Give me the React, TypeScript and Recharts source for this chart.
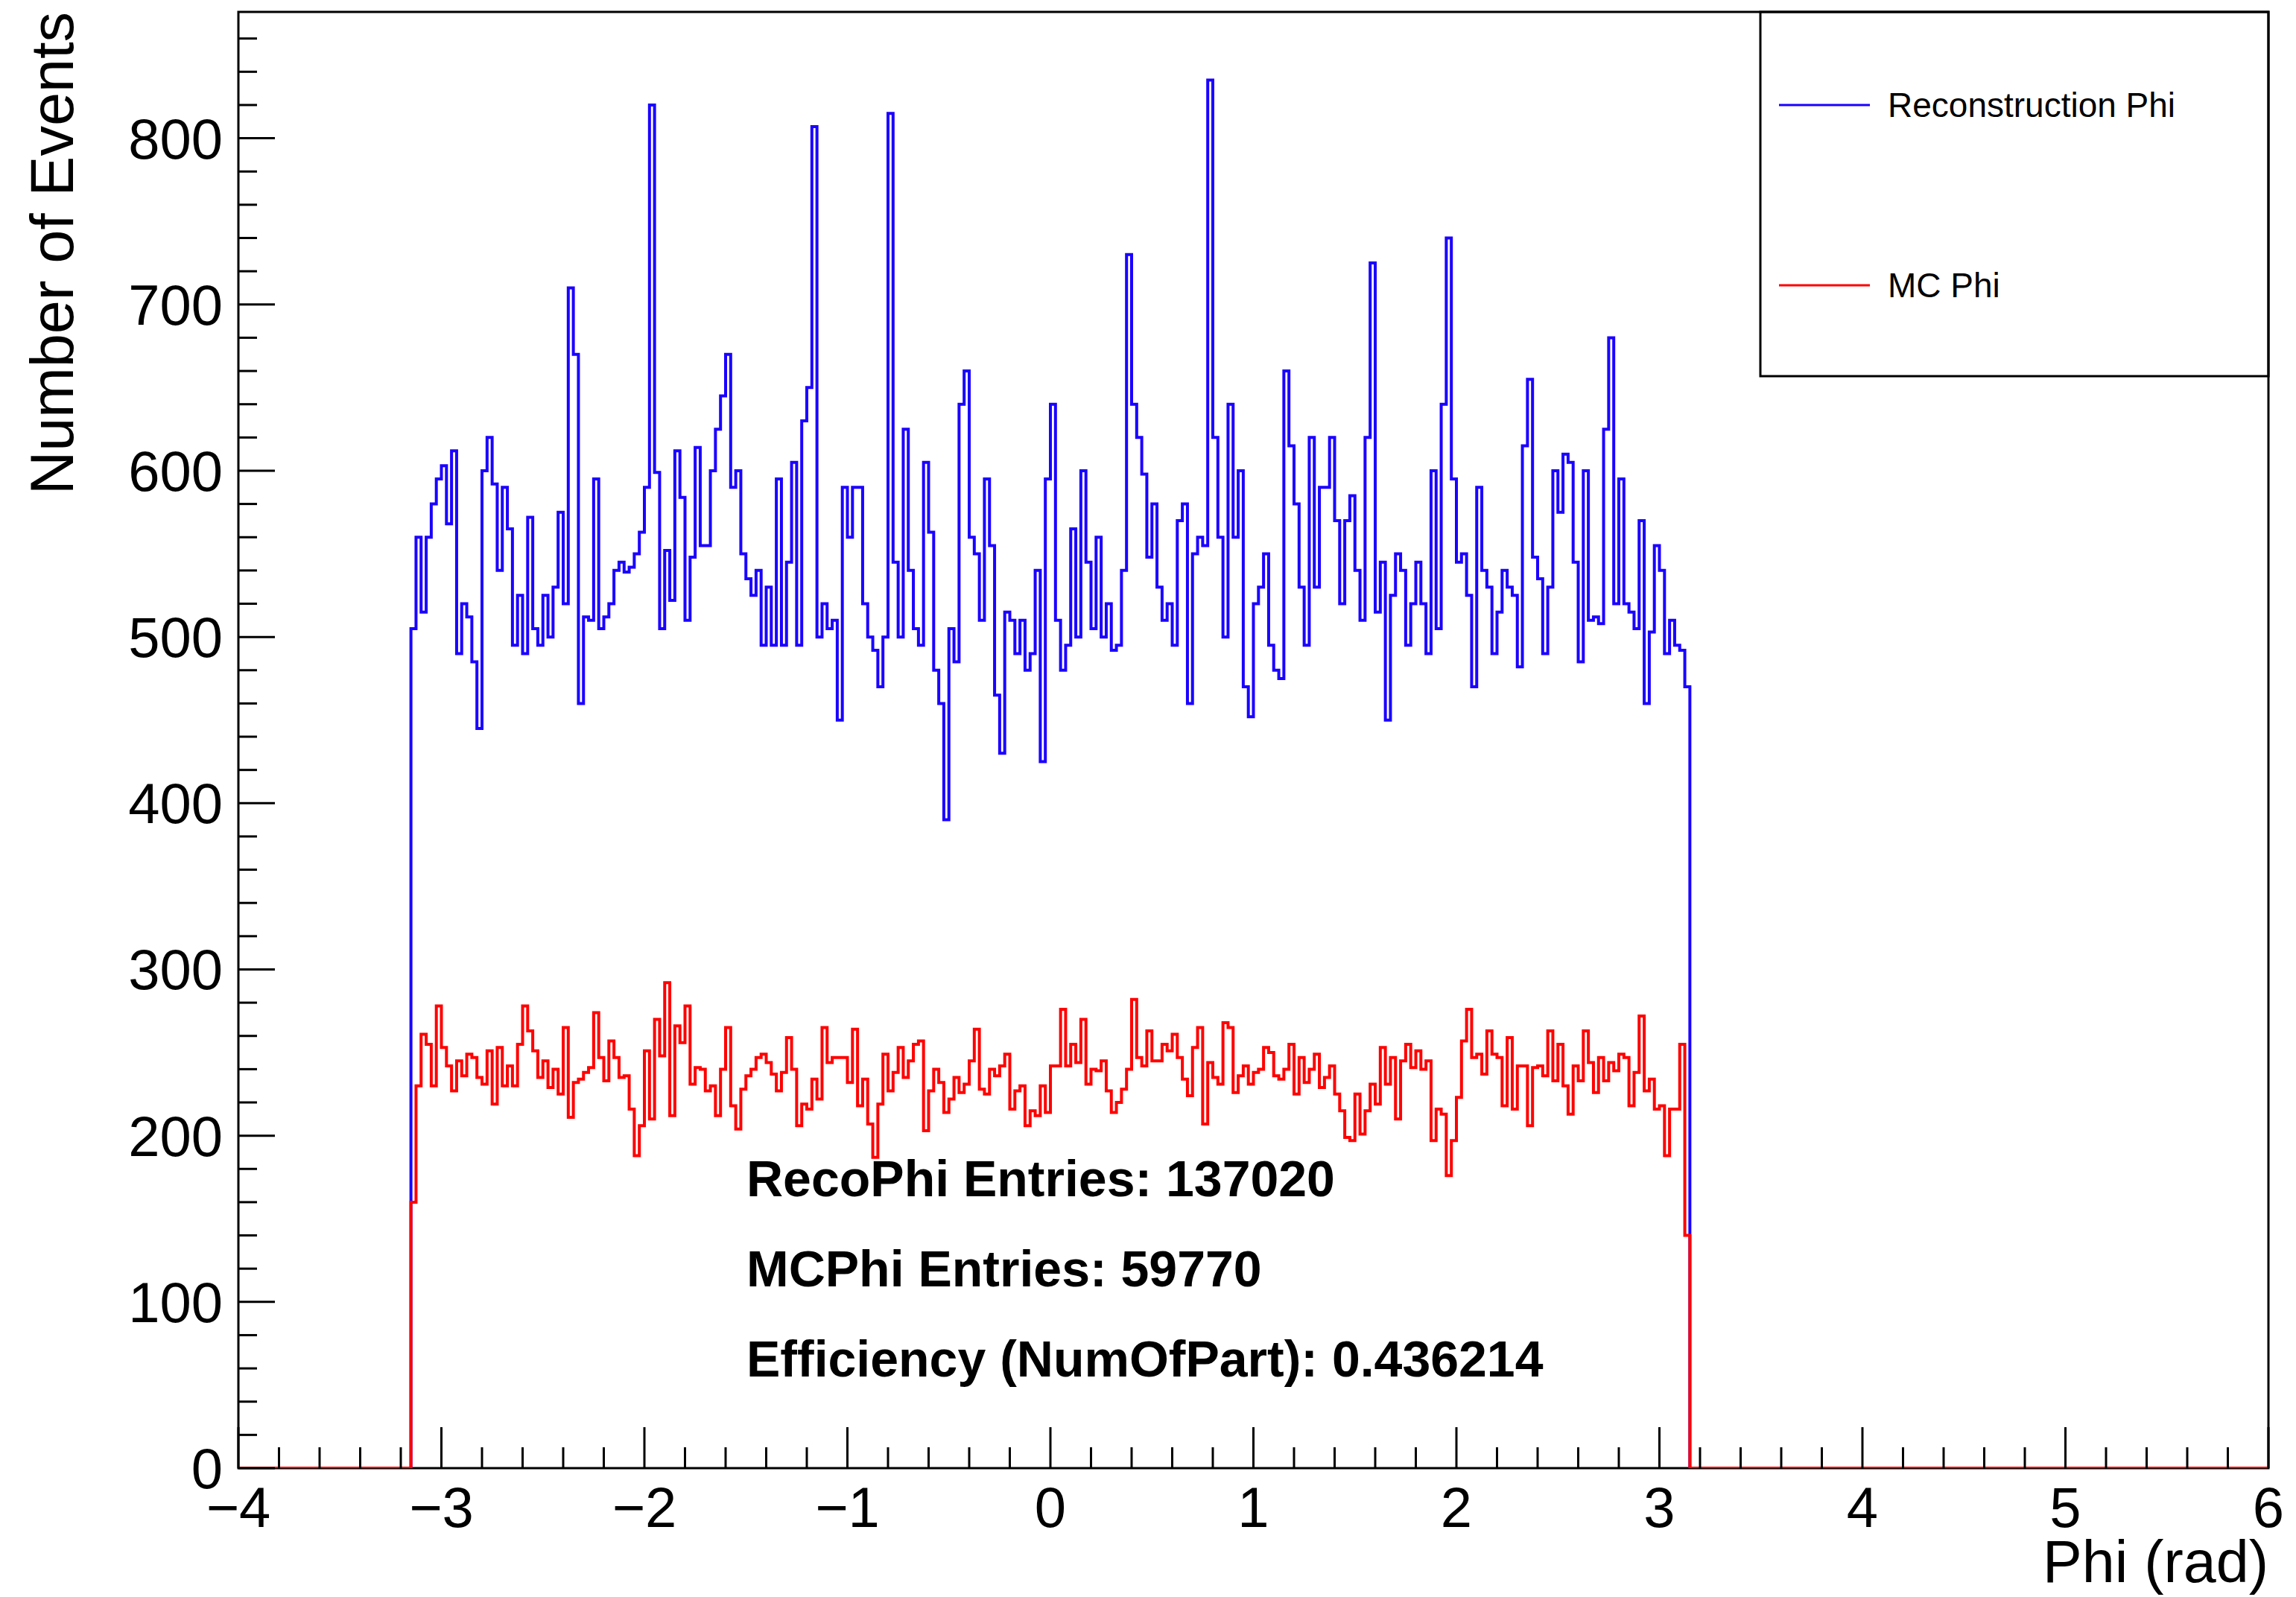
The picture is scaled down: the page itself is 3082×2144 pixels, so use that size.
import React from 'react';
import { ComposedChart, Line, XAxis, YAxis, ReferenceArea, Customized } from 'recharts';

// Histogram definition: 400 bins on [-4, 6] -> filled bins start at -3.15, width 0.025
const BIN_LOW = -3.15;
const BIN_WIDTH = 0.025;
const X_MIN = -4;
const X_MAX = 6;
const Y_MAX = 876;

const recoPhiCounts = [
  505, 560, 515, 560, 580, 595, 603, 568, 612, 490,
  520, 512, 485, 445, 600, 620, 592, 540, 590, 565,
  495, 525, 490, 572, 505, 495, 525, 500, 530, 575,
  520, 710, 670, 460, 512, 510, 595, 505, 512, 520,
  540, 545, 539, 542, 550, 563, 590, 820, 599, 505,
  552, 522, 612, 584, 510, 548, 614, 555, 555, 600,
  625, 645, 670, 590, 600, 550, 535, 525, 540, 495,
  530, 495, 595, 495, 545, 605, 495, 630, 650, 807,
  500, 520, 505, 510, 450, 590, 560, 590, 590, 520,
  500, 492, 470, 500, 815, 545, 500, 625, 540, 505,
  495, 605, 563, 480, 460, 390, 505, 485, 640, 660,
  560, 550, 510, 595, 555, 465, 430, 515, 510, 490,
  510, 480, 490, 540, 425, 595, 640, 510, 480, 495,
  565, 500, 600, 545, 505, 560, 500, 520, 492, 495,
  540, 730, 640, 620, 598, 548, 580, 530, 510, 520,
  495, 570, 580, 460, 550, 560, 555, 835, 620, 560,
  500, 640, 560, 600, 470, 452, 520, 530, 550, 495,
  480, 475, 660, 615, 580, 530, 495, 620, 530, 590,
  590, 620, 570, 520, 570, 585, 540, 510, 620, 725,
  515, 545, 450, 525, 550, 540, 495, 520, 545, 520,
  490, 600, 505, 640, 740, 595, 545, 550, 525, 470,
  590, 540, 530, 490, 515, 540, 530, 525, 482, 615,
  655, 548, 535, 490, 530, 600, 575, 610, 605, 545,
  485, 600, 510, 512, 508, 625, 680, 520, 595, 520,
  515, 505, 570, 460, 503, 555, 540, 490, 510, 495,
  492, 470,
];

const mcPhiCounts = [
  160, 230, 261, 255, 230, 278, 253, 242, 227, 245,
  236, 249, 247, 235, 231, 251, 219, 253, 230, 242,
  230, 255, 278, 263, 251, 235, 245, 229, 240, 225,
  265, 211, 232, 234, 238, 241, 274, 247, 233, 257,
  247, 235, 236, 216, 188, 206, 251, 210, 270, 248,
  292, 212, 266, 256, 278, 231, 241, 240, 227, 230,
  212, 240, 265, 218, 204, 228, 236, 240, 247, 249,
  244, 237, 227, 238, 259, 240, 206, 219, 216, 234,
  222, 265, 244, 247, 247, 247, 232, 264, 218, 234,
  207, 187, 219, 249, 227, 238, 253, 235, 245, 255,
  257, 203, 227, 240, 232, 214, 222, 235, 226, 231,
  245, 264, 228, 225, 240, 236, 242, 249, 216, 227,
  230, 206, 215, 212, 230, 214, 242, 242, 276, 242,
  255, 244, 270, 231, 240, 239, 245, 227, 214, 220,
  228, 240, 282, 247, 242, 263, 245, 245, 255, 251,
  261, 247, 234, 224, 253, 265, 207, 244, 235, 231,
  268, 265, 226, 236, 242, 231, 238, 240, 253, 250,
  236, 234, 240, 255, 225, 247, 232, 240, 249, 229,
  235, 242, 225, 215, 199, 197, 225, 201, 215, 231,
  219, 253, 231, 247, 210, 245, 255, 241, 251, 240,
  245, 197, 216, 213, 176, 197, 223, 257, 276, 247,
  249, 237, 263, 249, 247, 218, 259, 216, 242, 242,
  206, 241, 242, 236, 263, 233, 255, 230, 213, 242,
  233, 263, 244, 226, 247, 233, 244, 239, 249, 247,
  218, 238, 272, 227, 234, 216, 218, 188, 216, 216,
  255, 140,
];

const xMajorTicks = [-4, -3, -2, -1, 0, 1, 2, 3, 4, 5, 6];
const yMajorTicks = [0, 100, 200, 300, 400, 500, 600, 700, 800];
const X_MINOR_PER_MAJOR = 5;
const Y_MINOR_PER_MAJOR = 5;

const seriesNames = ['Reconstruction Phi', 'MC Phi'];
const seriesColors = ['#1a00ff', '#ff0000'];
const xAxisTitle = 'Phi (rad)';
const yAxisTitle = 'Number of Events';
const statsLines = [
  'RecoPhi Entries: 137020',
  'MCPhi Entries: 59770',
  'Efficiency (NumOfPart): 0.436214',
];

const FONT = '"Liberation Sans", Arial, Helvetica, sans-serif';

// Build step data (bin low edges) from the counts
const rows: { x: number; reco: number; mc: number }[] = [];
rows.push({ x: X_MIN, reco: 0, mc: 0 });
for (let i = 0; i < recoPhiCounts.length; i++) {
  rows.push({ x: +(BIN_LOW + i * BIN_WIDTH).toFixed(6), reco: recoPhiCounts[i], mc: mcPhiCounts[i] });
}
rows.push({ x: +(BIN_LOW + recoPhiCounts.length * BIN_WIDTH).toFixed(6), reco: 0, mc: 0 });
rows.push({ x: X_MAX, reco: 0, mc: 0 });

// tick arrays incl. minor ticks
const xTicks: number[] = [];
for (let i = 0; i < xMajorTicks.length - 1; i++) {
  const step = (xMajorTicks[i + 1] - xMajorTicks[i]) / X_MINOR_PER_MAJOR;
  for (let k = 0; k < X_MINOR_PER_MAJOR; k++) xTicks.push(+(xMajorTicks[i] + k * step).toFixed(6));
}
xTicks.push(xMajorTicks[xMajorTicks.length - 1]);

const yTicks: number[] = [];
{
  const step = (yMajorTicks[1] - yMajorTicks[0]) / Y_MINOR_PER_MAJOR;
  for (let v = 0; v < Y_MAX; v = +(v + step).toFixed(6)) yTicks.push(v);
}

const isXMajor = (v: number) => xMajorTicks.some((m) => Math.abs(m - v) < 1e-6);
const isYMajor = (v: number) => yMajorTicks.some((m) => Math.abs(m - v) < 1e-6);
const fmt = (v: number) => (v < 0 ? '\u2212' + Math.abs(v) : String(v));

const XTick = (props: any) => {
  const { x, y, payload } = props;
  const major = isXMajor(payload.value);
  return (
    <g>
      <line x1={x} x2={x} y1={y} y2={y - (major ? 55 : 28)} stroke="#000" strokeWidth={3} />
      {major && (
        <text x={x} y={y + 79} textAnchor="middle" fontSize={76} fontFamily={FONT} fill="#000">
          {fmt(payload.value)}
        </text>
      )}
    </g>
  );
};

const YTick = (props: any) => {
  const { x, y, payload } = props;
  const major = isYMajor(payload.value);
  return (
    <g>
      <line x1={x} x2={x + (major ? 49 : 25)} y1={y} y2={y} stroke="#000" strokeWidth={3} />
      {major && (
        <text x={x - 21} y={y + 27} textAnchor="end" fontSize={76} fontFamily={FONT} fill="#000">
          {fmt(payload.value)}
        </text>
      )}
    </g>
  );
};

const Overlay = () => (
  <g>
    {/* legend */}
    <rect x={2363} y={16} width={682} height={489} fill="#fff" stroke="#000" strokeWidth={3} />
    {seriesNames.map((name, i) => (
      <g key={name}>
        <line x1={2388} x2={2510} y1={141 + i * 242} y2={141 + i * 242} stroke={seriesColors[i]} strokeWidth={3} />
        <text x={2534} y={157 + i * 242} fontSize={46} fontFamily={FONT} fill="#000">
          {name}
        </text>
      </g>
    ))}
    {/* stats text */}
    {statsLines.map((t, i) => (
      <text key={t} x={1002} y={1606 + i * 121} fontSize={68} fontWeight="bold" fontFamily={FONT} fill="#000">
        {t}
      </text>
    ))}
    {/* axis titles */}
    <text x={3045} y={2124} textAnchor="end" fontSize={79} fontFamily={FONT} fill="#000">
      {xAxisTitle}
    </text>
    <text
      x={98}
      y={16}
      textAnchor="end"
      fontSize={81}
      fontFamily={FONT}
      fill="#000"
      transform="rotate(-90 98 16)"
    >
      {yAxisTitle}
    </text>
  </g>
);

export default function App() {
  return (
    <div style={{ position: 'absolute', left: 0, top: 0, width: 3082, height: 2144, background: '#fff' }}>
      <ComposedChart
        width={3082}
        height={2144}
        data={rows}
        margin={{ top: 16, right: 37, bottom: 172, left: 319 }}
      >
        <XAxis
          dataKey="x"
          type="number"
          domain={[X_MIN, X_MAX]}
          ticks={xTicks}
          interval={0}
          tick={(p: any) => <XTick {...p} />}
          tickLine={false}
          axisLine={false}
          tickSize={0}
          tickMargin={0}
          height={1}
          allowDataOverflow
        />
        <YAxis
          type="number"
          domain={[0, Y_MAX]}
          ticks={yTicks}
          interval={0}
          tick={(p: any) => <YTick {...p} />}
          tickLine={false}
          axisLine={false}
          tickSize={0}
          tickMargin={0}
          width={1}
          allowDataOverflow
        />
        <ReferenceArea x1={X_MIN} x2={X_MAX} y1={0} y2={Y_MAX} fill="none" stroke="#000" strokeWidth={3} ifOverflow="visible" />
        <Line
          dataKey="reco"
          type="stepAfter"
          stroke={seriesColors[0]}
          strokeWidth={4}
          strokeLinejoin="miter"
          strokeLinecap="butt"
          dot={false}
          activeDot={false}
          isAnimationActive={false}
        />
        <Line
          dataKey="mc"
          type="stepAfter"
          stroke={seriesColors[1]}
          strokeWidth={4}
          strokeLinejoin="miter"
          strokeLinecap="butt"
          dot={false}
          activeDot={false}
          isAnimationActive={false}
        />
        <Customized component={Overlay} />
      </ComposedChart>
    </div>
  );
}
